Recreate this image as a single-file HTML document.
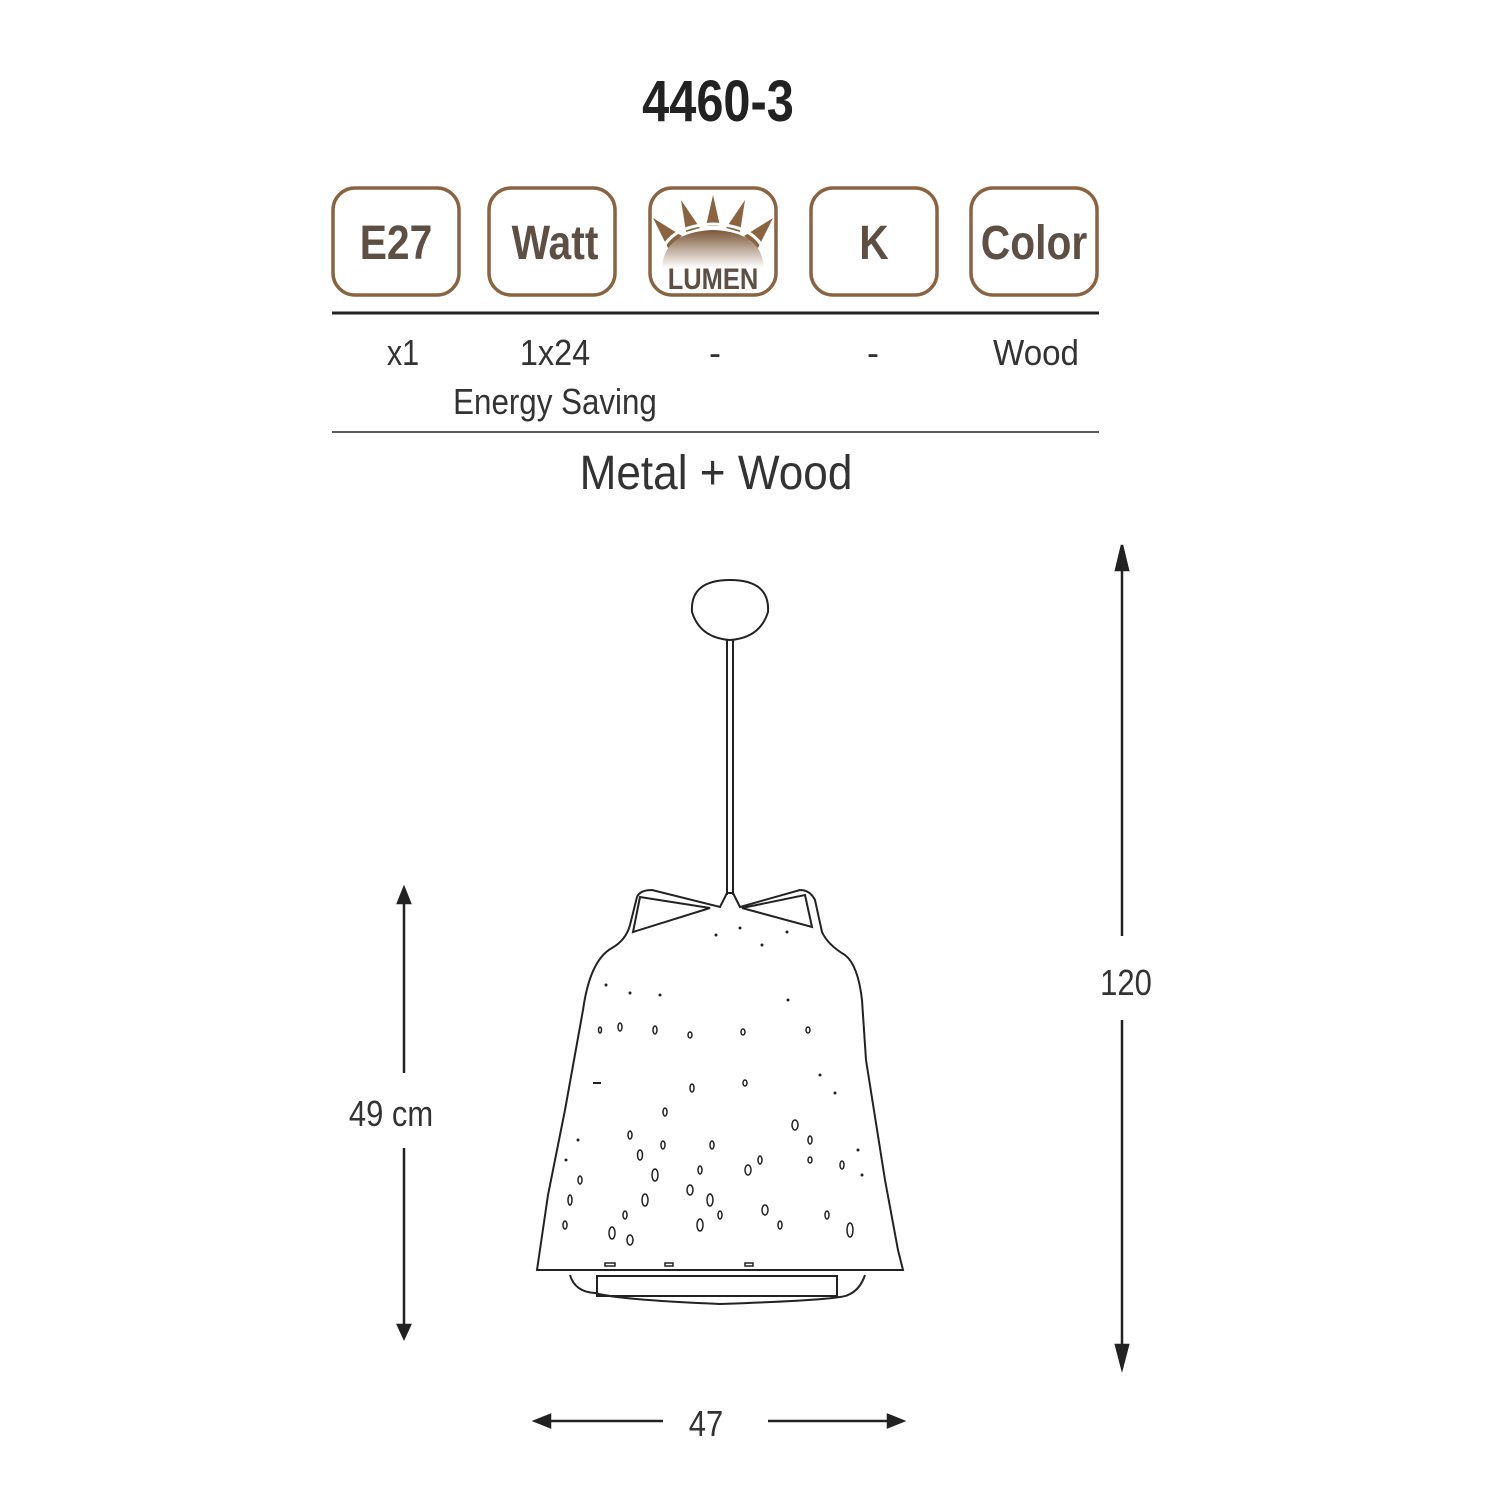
<!DOCTYPE html>
<html><head><meta charset="utf-8"><style>
body{margin:0;background:#fff}
svg{display:block}
text{font-family:"Liberation Sans",sans-serif}
</style></head><body>
<svg width="1500" height="1500" viewBox="0 0 1500 1500" xmlns="http://www.w3.org/2000/svg">
<defs>
<linearGradient id="g" x1="0" y1="0" x2="0" y2="1"><stop offset="0" stop-color="#7a5535"/><stop offset="1" stop-color="#fff"/></linearGradient>
</defs>
<text x="718" y="121" font-size="58" font-weight="bold" text-anchor="middle" fill="#222" transform="translate(718 0) scale(0.84 1) translate(-718 0)">4460-3</text>
<g fill="#fff" stroke="#8a6440" stroke-width="3.5">
<rect x="333" y="188" width="126" height="107" rx="22"/>
<rect x="489" y="188" width="126" height="107" rx="22"/>
<rect x="650" y="188" width="126" height="107" rx="22"/>
<rect x="811" y="188" width="126" height="107" rx="22"/>
<rect x="971" y="188" width="126" height="107" rx="22"/>
</g>
<g fill="#8a6440">
<polygon points="706,226 713,195 720,226"/>
<polygon points="686,232 681,200 700,228"/>
<polygon points="726,228 745,200 740,232"/>
<polygon points="668,248 653,218 682,236"/>
<polygon points="744,236 773,218 758,248"/>
</g>
<path d="M662,268 Q664,232 713,230 Q762,232 764,268 Z" fill="url(#g)"/>
<path d="M658,268 Q660,226 713,224 Q766,226 768,268" fill="none" stroke="#fff" stroke-width="3"/>
<g font-weight="bold" fill="#5e4f45" font-size="48" text-anchor="middle">
<text x="396" y="259" transform="translate(396 0) scale(0.85 1) translate(-396 0)">E27</text>
<text x="555" y="259" transform="translate(555 0) scale(0.85 1) translate(-555 0)">Watt</text>
<text x="874" y="259" transform="translate(874 0) scale(0.85 1) translate(-874 0)">K</text>
<text x="1034" y="259" transform="translate(1034 0) scale(0.85 1) translate(-1034 0)">Color</text>
<text x="713" y="289" font-size="30" transform="translate(713 0) scale(0.85 1) translate(-713 0)">LUMEN</text>
</g>
<line x1="332" y1="313" x2="1099" y2="313" stroke="#222" stroke-width="3"/>
<line x1="332" y1="432" x2="1099" y2="432" stroke="#222" stroke-width="1.5"/>
<g fill="#333" font-size="36" text-anchor="middle">
<text x="403" y="365" transform="translate(403 0) scale(0.85 1) translate(-403 0)">x1</text>
<text x="555" y="365" transform="translate(555 0) scale(0.9 1) translate(-555 0)">1x24</text>
<text x="555" y="414" transform="translate(555 0) scale(0.87 1) translate(-555 0)">Energy Saving</text>
<text x="715" y="365">-</text>
<text x="873" y="365">-</text>
<text x="1036" y="365" transform="translate(1036 0) scale(0.92 1) translate(-1036 0)">Wood</text>
<text x="716" y="489" font-size="48" transform="translate(716 0) scale(0.92 1) translate(-716 0)">Metal + Wood</text>
<text x="391" y="1126" transform="translate(391 0) scale(0.86 1) translate(-391 0)">49 cm</text>
<text x="1126" y="995" transform="translate(1126 0) scale(0.86 1) translate(-1126 0)">120</text>
<text x="706" y="1436" transform="translate(706 0) scale(0.86 1) translate(-706 0)">47</text>
</g>
<g stroke="#222" stroke-width="2.5" fill="#222">
<line x1="1122" y1="560" x2="1122" y2="936"/><polygon points="1116,570 1122,545 1128,570"/>
<line x1="1122" y1="1020" x2="1122" y2="1355"/><polygon points="1116,1345 1122,1368 1128,1345"/>
<line x1="404" y1="900" x2="404" y2="1073"/><polygon points="398,903 404,888 410,903"/>
<line x1="404" y1="1148" x2="404" y2="1328"/><polygon points="398,1325 404,1338 410,1325"/>
<line x1="548" y1="1421" x2="663" y2="1421"/><polygon points="550,1415 535,1421 550,1427"/>
<line x1="768" y1="1421" x2="890" y2="1421"/><polygon points="888,1415 903,1421 888,1427"/>
</g>
<g fill="none" stroke="#222" stroke-width="2">
<path d="M692,612 Q690,580 730,580 Q770,580 768,612 Q760,638 730,640 Q700,638 692,612 Z"/>
<line x1="727" y1="640" x2="727" y2="895"/><line x1="733" y1="640" x2="733" y2="895"/>
<path d="M537,1270 L548,1195 L565,1110 L583,1010 Q590,960 612,948 Q626,940 630,925 L637,897 Q640,890 652,890 L720,907 L727,893 L733,893 L740,907 L800,890 Q810,890 815,900 L822,932 Q828,945 845,955 Q858,965 862,1000 L866,1060 L885,1180 L898,1250 L903,1270 Z"/>
<path d="M640,897 L633,932 L710,908 Z M805,895 L812,927 L742,908 Z"/>
<path d="M570,1275 Q575,1292 595,1293 Q620,1300 720,1304 Q840,1300 848,1295 Q860,1290 865,1275"/>
<rect x="597" y="1276" width="240" height="20"/>
</g>
<g fill="none" stroke="#222" stroke-width="1.5">
<ellipse cx="630" cy="1135" rx="2" ry="4"/><ellipse cx="640" cy="1155" rx="2.5" ry="5"/><ellipse cx="665" cy="1112" rx="2" ry="4"/><ellipse cx="663" cy="1145" rx="2" ry="4"/><ellipse cx="655" cy="1175" rx="3" ry="6"/><ellipse cx="645" cy="1200" rx="3" ry="6"/><ellipse cx="625" cy="1215" rx="2" ry="4"/><ellipse cx="612" cy="1233" rx="3" ry="6"/><ellipse cx="630" cy="1240" rx="3" ry="5"/><ellipse cx="690" cy="1190" rx="3" ry="5"/><ellipse cx="710" cy="1200" rx="3" ry="6"/><ellipse cx="700" cy="1225" rx="3" ry="6"/><ellipse cx="720" cy="1215" rx="2" ry="4"/><ellipse cx="712" cy="1145" rx="2" ry="4"/><ellipse cx="700" cy="1170" rx="2" ry="4"/><ellipse cx="748" cy="1170" rx="3" ry="5"/><ellipse cx="760" cy="1160" rx="2" ry="4"/><ellipse cx="765" cy="1210" rx="3" ry="5"/><ellipse cx="780" cy="1225" rx="2" ry="4"/><ellipse cx="795" cy="1125" rx="3" ry="5"/><ellipse cx="810" cy="1140" rx="2" ry="4"/><ellipse cx="810" cy="1160" rx="2" ry="3"/><ellipse cx="842" cy="1165" rx="2" ry="4"/><ellipse cx="850" cy="1230" rx="3" ry="7"/><ellipse cx="827" cy="1215" rx="2" ry="4"/><ellipse cx="580" cy="1180" rx="2" ry="4"/><ellipse cx="570" cy="1200" rx="2" ry="5"/><ellipse cx="565" cy="1225" rx="2" ry="4"/><ellipse cx="620" cy="1027" rx="2" ry="4"/><ellipse cx="655" cy="1030" rx="2" ry="4"/><ellipse cx="690" cy="1035" rx="2" ry="3"/><ellipse cx="743" cy="1032" rx="2" ry="3"/><ellipse cx="692" cy="1088" rx="2" ry="4"/><ellipse cx="745" cy="1083" rx="2" ry="3"/><ellipse cx="808" cy="1030" rx="2" ry="3"/><ellipse cx="600" cy="1030" rx="1.5" ry="3"/>
<rect x="605" y="1263" width="10" height="3"/><rect x="665" y="1263" width="8" height="3"/><rect x="745" y="1263" width="8" height="3"/>
</g>
<g fill="#222">
<circle cx="660" cy="995" r="1.5"/><circle cx="630" cy="993" r="1.5"/><circle cx="788" cy="1000" r="1.5"/><circle cx="606" cy="985" r="1.5"/><circle cx="716" cy="935" r="1.5"/><circle cx="740" cy="928" r="1.5"/><circle cx="762" cy="945" r="1.5"/><circle cx="787" cy="932" r="1.5"/><rect x="593" y="1082" width="8" height="2"/><circle cx="578" cy="1140" r="1.5"/><circle cx="566" cy="1160" r="1.5"/><circle cx="820" cy="1075" r="1.5"/><circle cx="835" cy="1093" r="1.5"/><circle cx="862" cy="1175" r="1.5"/><circle cx="858" cy="1150" r="1.5"/>
</g>
</svg>
</body></html>
